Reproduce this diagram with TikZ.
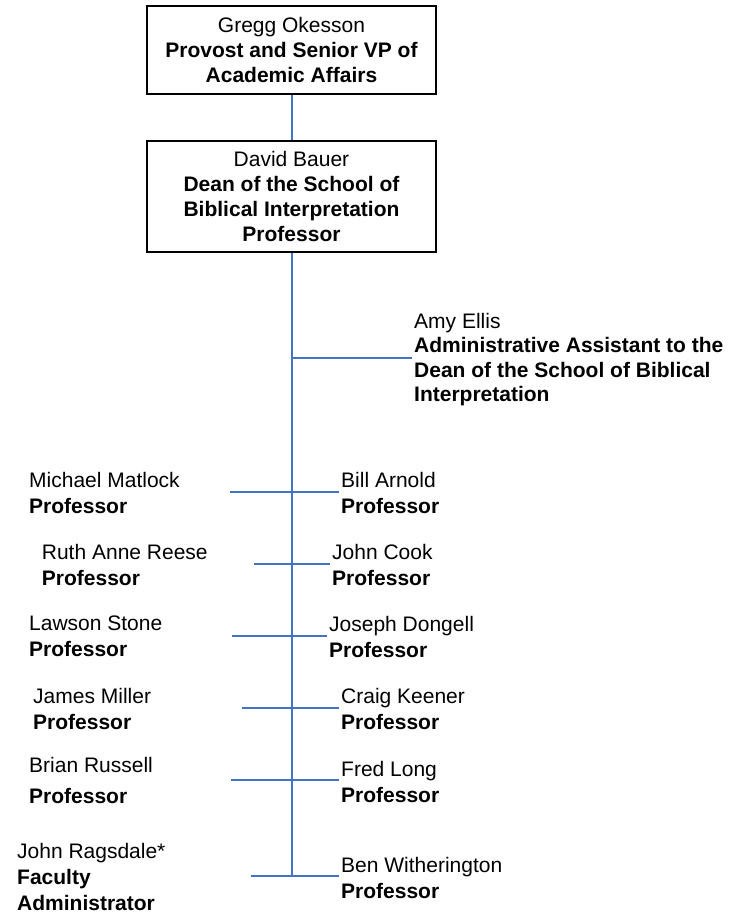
\documentclass[tikz,border=0pt]{standalone}
\usepackage{fontspec}
\setmainfont{Liberation Sans}
\usepackage{tikz}
\usetikzlibrary{positioning}

\definecolor{orgblue}{HTML}{4472C4}

\tikzset{
    office/.style={draw=black, line width=2pt, inner sep=0pt, align=center,
        minimum width=289pt, font=\fontsize{21}{25}\selectfont},
    staff/.style={anchor=north west, inner sep=0pt, align=left,
        font=\fontsize{21}{26}\selectfont},
    link/.style={draw=orgblue, line width=2pt}
}

\begin{document}
\begin{tikzpicture}[x=1pt,y=-1pt]
    \useasboundingbox (0,0) rectangle (731,913);
    % boxes at the top
    \node[office, minimum height=88pt] (provost) at (291.5,50)
        {Gregg Okesson\\\textbf{Provost and Senior VP of}\\\textbf{Academic Affairs}};
    \node[office, minimum height=111pt] (dean) at (291.5,196.5)
        {David Bauer\\\textbf{Dean of the School of}\\\textbf{Biblical Interpretation}\\\textbf{Professor}};
    % assistant
    \node[staff, font=\fontsize{21}{24.5}\selectfont] (ellis) at (414,313)
        {Amy Ellis\\\textbf{Administrative Assistant to the}\\\textbf{Dean of the School of Biblical}\\\textbf{Interpretation}};
    % faculty, left side
    \node[staff] (matlock) at (29,472) {Michael Matlock\\\textbf{Professor}};
    \node[staff] (reese) at (41.7,544) {Ruth Anne Reese\\\textbf{Professor}};
    \node[staff] (stone) at (29,616) {Lawson Stone\\\textbf{Professor}};
    \node[staff] (miller) at (33,688) {James Miller\\\textbf{Professor}};
    \node[staff] (russell) at (29,757) {Brian Russell\\[5pt]\textbf{Professor}};
    \node[staff] (ragsdale) at (17,843) {John Ragsdale*\\\textbf{Faculty}\\\textbf{Administrator}};
    % faculty, right side
    \node[staff] (arnold) at (341,472) {Bill Arnold\\\textbf{Professor}};
    \node[staff] (cook) at (332,544) {John Cook\\\textbf{Professor}};
    \node[staff] (dongell) at (329,616) {Joseph Dongell\\\textbf{Professor}};
    \node[staff] (keener) at (341,688) {Craig Keener\\\textbf{Professor}};
    \node[staff] (long) at (341,761) {Fred Long\\\textbf{Professor}};
    \node[staff] (witherington) at (341,857) {Ben Witherington\\\textbf{Professor}};
    % branch points
    \coordinate (spine) at (291.5,876);
    \coordinate (e0) at (291.5,358);
    \coordinate (e1) at (412,358);
    \coordinate (a0) at (230,492);   \coordinate (a1) at (339,492);
    \coordinate (b0) at (254,564);   \coordinate (b1) at (330,564);
    \coordinate (c0) at (232,636);   \coordinate (c1) at (327,636);
    \coordinate (d0) at (242,708);   \coordinate (d1) at (339,708);
    \coordinate (f0) at (231,780);   \coordinate (f1) at (339,780);
    \coordinate (g0) at (251,876);   \coordinate (g1) at (339,876);
    \path[link]
        (provost) edge (dean)
        (dean) edge (spine)
        (e0) edge (e1)
        (a0) edge (a1)
        (b0) edge (b1)
        (c0) edge (c1)
        (d0) edge (d1)
        (f0) edge (f1)
        (g0) edge (g1);
\end{tikzpicture}
\end{document}
